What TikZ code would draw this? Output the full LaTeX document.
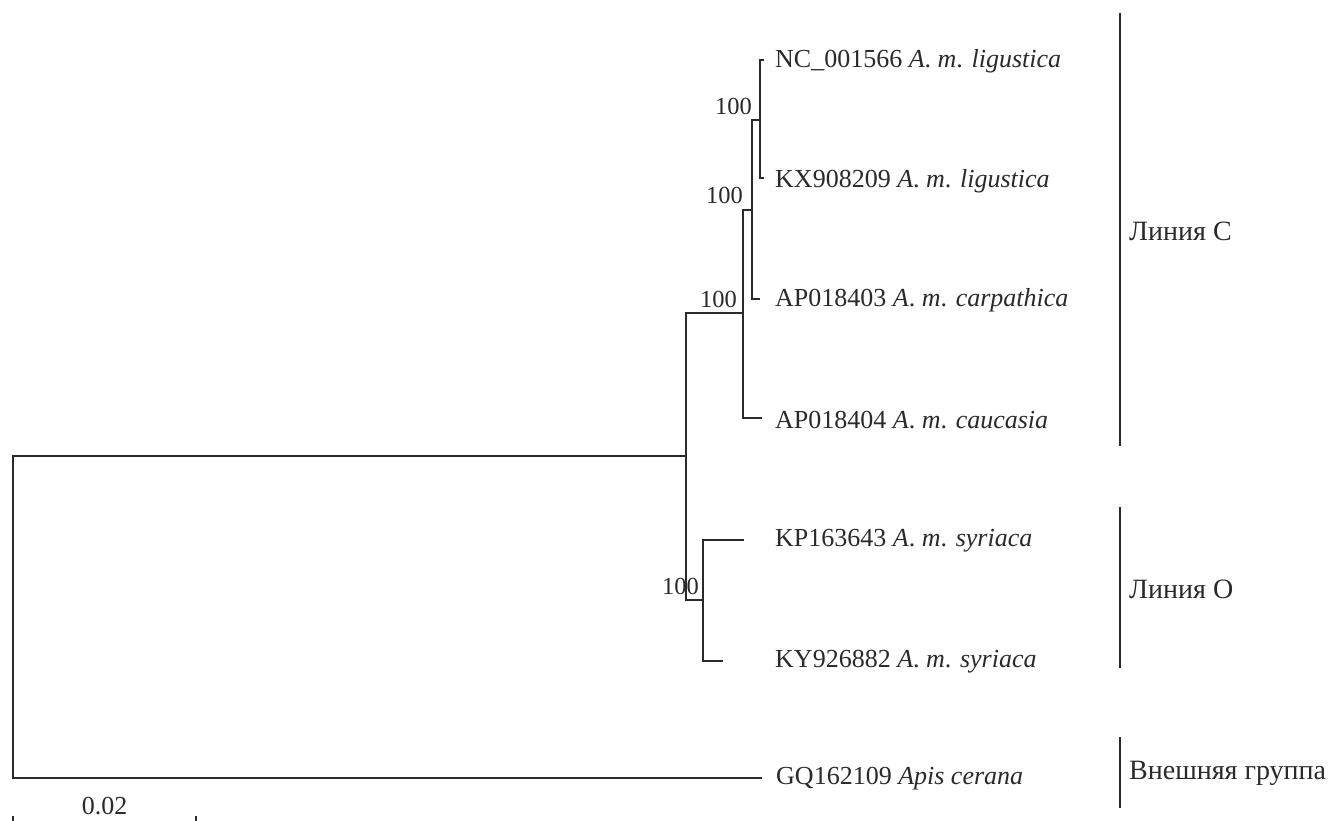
\documentclass[tikz,border=0pt]{standalone}
\usepackage{fontspec}
\setmainfont{Liberation Serif}
\definecolor{ink}{HTML}{2A2A2A}
\begin{document}
\begin{tikzpicture}[x=1pt,y=-1pt,
  branch/.style={draw=ink,line width=1.2pt},
  taxon/.style={anchor=west,inner sep=0pt,text=ink,font=\fontsize{26}{30}\selectfont},
  support/.style={anchor=base east,inner sep=0pt,text=ink,font=\fontsize{24.5}{28}\selectfont},
  group/.style={anchor=west,inner sep=0pt,text=ink,font=\fontsize{28}{32}\selectfont},
  bracket/.style={draw=ink,line width=1.2pt}]
\useasboundingbox (0,0) rectangle (1328,821);

% tips of the branches
\coordinate (t1) at (764,60);
\coordinate (t2) at (764,178);
\coordinate (t3) at (760,299);
\coordinate (t4) at (762,418);
\coordinate (t5) at (744,540);
\coordinate (t6) at (723,661);
\coordinate (t7) at (762,778);

% internal nodes
\coordinate (nA) at (760,120);
\coordinate (nB) at (752,210);
\coordinate (nC) at (743,313);
\coordinate (nO) at (703,600);
\coordinate (nR) at (686,456);
\coordinate (root) at (13,600);

% taxon labels
\node[taxon] (l1) at (775,61) {NC\_001566 \textit{A}. \textit{m}. \textit{ligustica}};
\node[taxon] (l2) at (775,181) {KX908209 \textit{A}. \textit{m}. \textit{ligustica}};
\node[taxon] (l3) at (775,300) {AP018403 \textit{A}. \textit{m}. \textit{carpathica}};
\node[taxon] (l4) at (775,420) {AP018404 \textit{A}. \textit{m}. \textit{caucasia}};
\node[taxon] (l5) at (775,541) {KP163643 \textit{A}. \textit{m}. \textit{syriaca}};
\node[taxon] (l6) at (775,662) {KY926882 \textit{A}. \textit{m}. \textit{syriaca}};
\node[taxon] (l7) at (776,779) {GQ162109 \textit{Apis cerana}};

% branches
\draw[branch] (t1) -| (nA) |- (t2);
\draw[branch] (nA) -| (nB) |- (t3);
\draw[branch] (nB) -| (nC) |- (t4);
\draw[branch] (t5) -| (nO) |- (t6);
\draw[branch] (nC) -| (nR) |- (nO);
\draw[branch] (nR) -| (root) |- (t7);

% bootstrap support
\node[support] (bA) at (752,115) {100};
\node[support] (bB) at (743,204) {100};
\node[support] (bC) at (737,307) {100};
\node[support] (bO) at (699,594) {100};

% scale bar
\coordinate (s1) at (13,816);
\coordinate (s2) at (196,816);
\draw[branch] (s1) -- ++(0,6);
\draw[branch] (s2) -- ++(0,6);
\node[taxon,anchor=base] (sl) at (104.5,814) {0.02};

% lineage brackets
\coordinate (cTop) at (1120,13);
\coordinate (cBot) at (1120,446);
\coordinate (oTop) at (1120,507);
\coordinate (oBot) at (1120,668);
\coordinate (gTop) at (1120,737);
\coordinate (gBot) at (1120,808);
\draw[bracket] (cTop) -- (cBot);
\draw[bracket] (oTop) -- (oBot);
\draw[bracket] (gTop) -- (gBot);
\node[group] (gc) at (1129,231) {Линия C};
\node[group] (go) at (1129,589) {Линия O};
\node[group] (gg) at (1129,773) {Внешняя группа};
\end{tikzpicture}
\end{document}
